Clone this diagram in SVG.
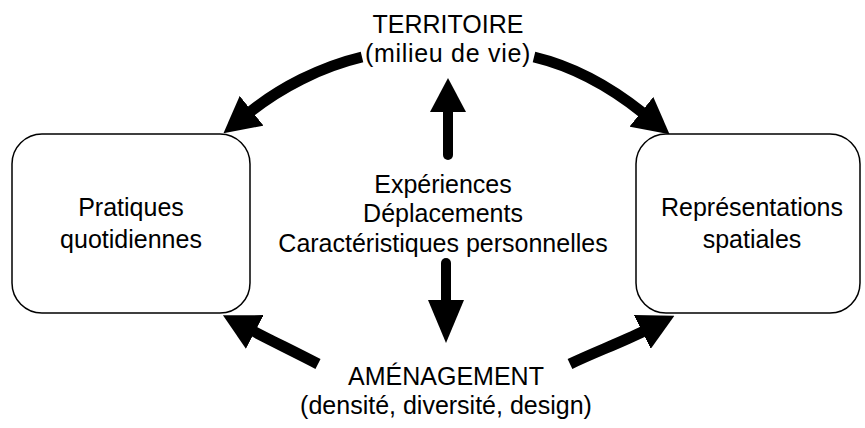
<svg xmlns="http://www.w3.org/2000/svg" width="865" height="428" viewBox="0 0 865 428">
<defs>
<marker id="ah" markerUnits="userSpaceOnUse" viewBox="0 -19 36 38" markerWidth="36" markerHeight="38" refX="2" refY="0" orient="auto">
<path d="M0,-19 L36,0 L0,19 z" fill="#000"/>
</marker>
</defs>
<style>
.t{font-family:"Liberation Sans",Arial,sans-serif;font-size:25px;fill:#000;text-anchor:middle}
.box{fill:#fff;stroke:#000;stroke-width:1.5}
.arc{fill:none;stroke:#000;stroke-width:11;marker-end:url(#ah)}
.vs{fill:none;stroke:#000;stroke-width:10;stroke-linecap:round}
</style>
<rect width="865" height="428" fill="#fff"/>
<g id="connectors">
<path class="arc" d="M362,57 C320,67 280,88 250,112"/>
<path class="arc" d="M534,57 C576,67 613,89 643,113"/>
<path class="arc" d="M318,364 C295,352 272,341 253,331"/>
<path class="arc" d="M570,364 C595,352 620,343 644,331"/>
<line class="vs" x1="448" y1="155" x2="448" y2="108"/>
<polygon points="448,78 430,112 466,112" fill="#000"/>
<line class="vs" x1="446" y1="263" x2="446" y2="304"/>
<polygon points="446,343 428,300 464,300" fill="#000"/>
</g>
<g id="territoire">
<text class="t" x="448" y="33">TERRITOIRE</text>
<text class="t" x="448" y="62" letter-spacing="0.7">(milieu de vie)</text>
</g>
<g id="pratiques">
<rect class="box" x="12" y="134" width="238" height="179" rx="30" ry="30"/>
<text class="t" x="131" y="216">Pratiques</text>
<text class="t" x="131" y="248">quotidiennes</text>
</g>
<g id="representations">
<rect class="box" x="636" y="134" width="224" height="179" rx="30" ry="30"/>
<text class="t" x="752" y="216">Représentations</text>
<text class="t" x="752" y="248">spatiales</text>
</g>
<g id="facteurs">
<text class="t" x="443" y="193">Expériences</text>
<text class="t" x="443" y="222">Déplacements</text>
<text class="t" x="443" y="252">Caractéristiques personnelles</text>
</g>
<g id="amenagement">
<text class="t" x="446" y="385">AMÉNAGEMENT</text>
<text class="t" x="446" y="414">(densité, diversité, design)</text>
</g>
</svg>
